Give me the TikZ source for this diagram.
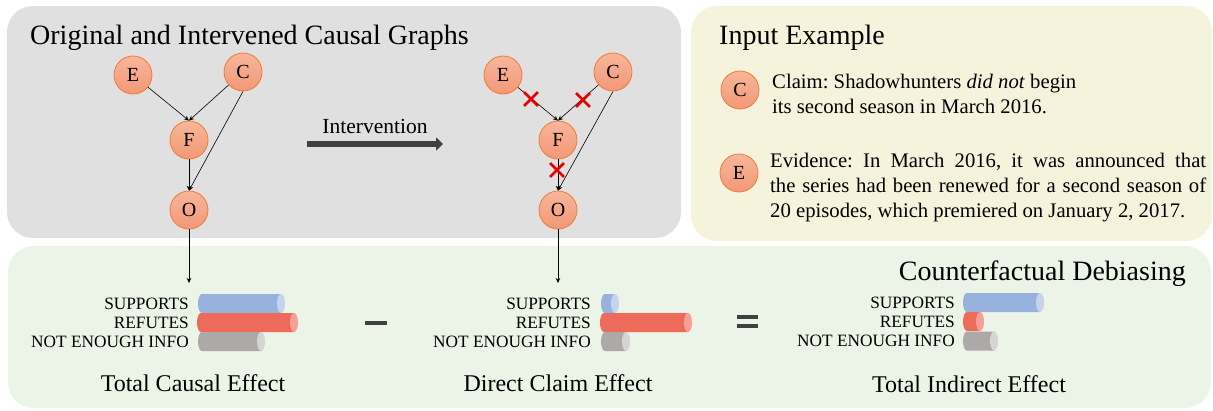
\documentclass[tikz,border=0pt]{standalone}
\usepackage{fontspec}
\setmainfont{Liberation Serif}
\usetikzlibrary{arrows.meta,shapes.misc}
\definecolor{graybox}{RGB}{224,224,224}
\definecolor{yellowbox}{RGB}{246,243,220}
\definecolor{greenbox}{RGB}{236,243,231}
\definecolor{nodeedge}{RGB}{237,125,49}
\definecolor{nodetop}{RGB}{248,182,154}
\definecolor{nodebot}{RGB}{242,152,120}
\definecolor{darkarrow}{RGB}{64,64,64}
\definecolor{barblue}{RGB}{152,178,222}
\definecolor{capblue}{RGB}{196,211,238}
\definecolor{barred}{RGB}{238,106,90}
\definecolor{capred}{RGB}{245,160,150}
\definecolor{bargray}{RGB}{173,169,168}
\definecolor{capgray}{RGB}{214,212,212}
\definecolor{crossred}{RGB}{230,0,0}
\newcommand{\cylbar}[5]{%
  \fill[#4] (#2,#3) -- (#1,#3) arc[start angle=90,end angle=270,x radius=4pt,y radius=9.5pt] -- (#2,#3+19) -- cycle;
  \fill[#5] (#2,#3+9.5) ellipse[x radius=4pt,y radius=9.5pt];
}
\begin{document}
\frenchspacing
\begin{tikzpicture}[x=1pt,y=-1pt,
  var/.style={circle, minimum size=38pt, inner sep=0pt, draw=nodeedge, line width=0.8pt,
    top color=nodetop, bottom color=nodebot, font=\fontsize{20}{24}\selectfont},
  edge/.style={-{Stealth[length=5pt,width=4.5pt]}, line width=0.6pt, black},
  xmark/.style={cross out, draw=crossred, line width=2.8pt, minimum size=11pt, inner sep=0pt},
  box/.style={rounded corners=26pt},
  title/.style={font=\fontsize{28}{34}\selectfont, inner sep=0pt},
  lab/.style={font=\fontsize{17.3}{20}\selectfont, inner sep=0pt, anchor=east},
  caption/.style={font=\fontsize{24}{28}\selectfont, inner sep=0pt, anchor=base},
  body/.style={font=\fontsize{20.7}{25}\selectfont\frenchspacing, inner sep=0pt, anchor=base west},
  bigsign/.style={line width=4pt, darkarrow}
]
\useasboundingbox (0,0) rectangle (1213,410);
% boxes
\fill[graybox, box] (7,6) rectangle (681,238);
\fill[yellowbox, box] (691,6) rectangle (1212,241);
\fill[greenbox, box] (8,246) rectangle (1211,408);

% titles
\node[title, anchor=base west] (t1) at (30,44) {Original and Intervened Causal Graphs};
\node[title, anchor=base west] (t2) at (719,44) {Input Example};
\node[title, anchor=base east] (t3) at (1186,280) {Counterfactual Debiasing};

% original graph
\node[var] (E1) at (133,75) {E};
\node[var] (C1) at (243,72) {C};
\node[var] (F1) at (189,140) {F};
\node[var] (O1) at (189,210) {O};
\draw[edge] (E1) -- (F1.north);
\draw[edge] (C1) -- (F1.north);
\draw[edge] (C1.south) -- (O1.north);
\draw[edge] (F1.south) -- (O1.north);

% intervened graph
\node[var] (E2) at (503,75) {E};
\node[var] (C2) at (613,72) {C};
\node[var] (F2) at (558,140) {F};
\node[var] (O2) at (558,210) {O};
\draw[edge] (E2) -- (F2.north);
\draw[edge] (C2) -- (F2.north);
\draw[edge] (C2.south) -- (O2.north);
\draw[edge] (F2.south) -- (O2.north);
\node[xmark] (x1) at (531,99) {};
\node[xmark] (x2) at (583,100) {};
\node[xmark] (x3) at (557,170) {};

% intervention arrow
\coordinate (ia) at (307,144);
\coordinate (ib) at (443,144);
\draw[line width=6pt, darkarrow, -{Triangle[length=7pt,width=13pt]}] (ia) -- (ib);
\node[font=\fontsize{21.5}{26}\selectfont, inner sep=0pt, anchor=base] (iv) at (375,133) {Intervention};

% input example
\node[var] (Cx) at (740,90) {C};
\node[var] (Ex) at (739,173) {E};
\node[body] (cl1) at (772,88) {Claim: Shadowhunters \textit{did not} begin};
\node[body] (cl2) at (772,113) {its second season in March 2016.};
\node[body] (ev1) at (770,167) {\hbox to 436pt{Evidence: In March 2016, it was announced that}};
\node[body] (ev2) at (770,192) {\hbox to 436pt{the series had been renewed for a second season of}};
\node[body] (ev3) at (770,217) {20 episodes, which premiered on January 2, 2017.};

% arrows down
\coordinate (d1) at (189,283);
\coordinate (d2) at (558,283);
\draw[edge] (O1.south) -- (d1);
\draw[edge] (O2.south) -- (d2);

% bars group 1
\node[lab] (s1) at (189,303.5) {SUPPORTS};
\node[lab] (r1) at (189,322.5) {REFUTES};
\node[lab] (n1) at (189,341.5) {NOT ENOUGH INFO};
\cylbar{202}{281}{294}{barblue}{capblue}
\cylbar{201}{294}{313}{barred}{capred}
\cylbar{202}{261}{332}{bargray}{capgray}

% bars group 2
\node[lab] (s2) at (591,303.5) {SUPPORTS};
\node[lab] (r2) at (591,322.5) {REFUTES};
\node[lab] (n2) at (591,341.5) {NOT ENOUGH INFO};
\cylbar{605}{615}{294}{barblue}{capblue}
\cylbar{604}{688}{313}{barred}{capred}
\cylbar{605}{626}{332}{bargray}{capgray}

% bars group 3
\node[lab] (s3) at (955,302.5) {SUPPORTS};
\node[lab] (r3) at (955,321.5) {REFUTES};
\node[lab] (n3) at (955,341) {NOT ENOUGH INFO};
\cylbar{967}{1040}{293}{barblue}{capblue}
\cylbar{967}{980}{312}{barred}{capred}
\cylbar{967}{994}{331.5}{bargray}{capgray}

% signs
\draw[bigsign] (365,323) -- (387,323);
\draw[bigsign] (737,317) -- (758,317);
\draw[bigsign] (737,325.5) -- (758,325.5);

% captions
\node[caption] (c1) at (193,391) {Total Causal Effect};
\node[caption] (c2) at (558,391) {Direct Claim Effect};
\node[caption] (c3) at (969,392) {Total Indirect Effect};
\end{tikzpicture}
\end{document}
